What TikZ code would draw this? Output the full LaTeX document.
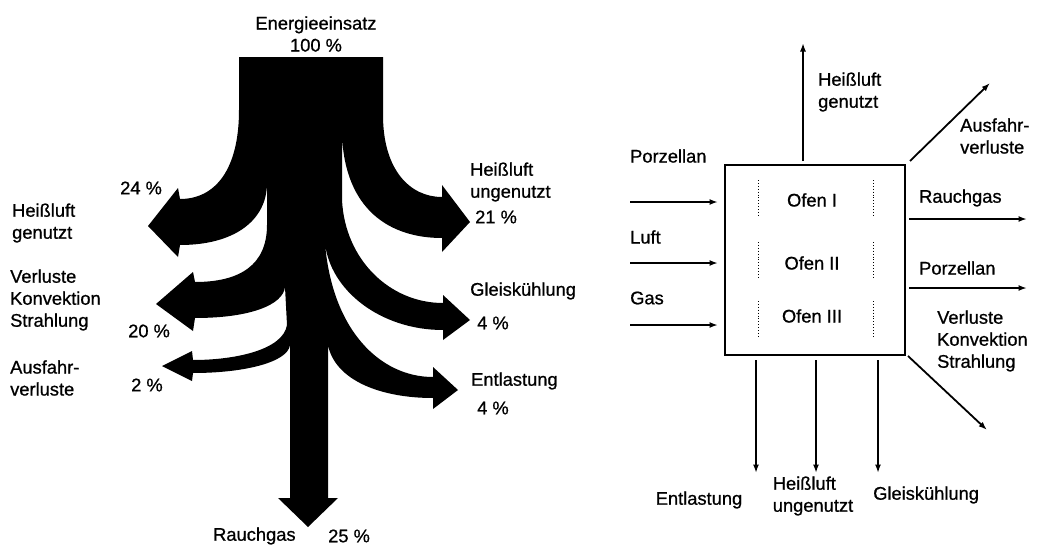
\documentclass[tikz,border=0pt]{standalone}
\usepackage{fontspec}
\setmainfont{Liberation Sans}[FakeBold=0.8]
\usetikzlibrary{arrows.meta}
\begin{document}
\begin{tikzpicture}[x=1pt,y=-1pt,
  lbl/.style={inner sep=0pt,font=\fontsize{18.3}{22}\selectfont,align=left},
  lblw/.style={lbl,anchor=west},
  flow/.style={line width=1.8pt,-{Latex[length=8.5pt,width=6pt]}},
  ofenbox/.style={draw,line width=2pt,minimum width=180pt,minimum height=190pt,inner sep=0pt},
  divider/.style={dotted,line width=0.9pt}]
\useasboundingbox (0,0) rectangle (1042,546);
% ---------------- Sankey diagram ----------------
\fill[black]
  (239,57) -- (239,110) .. controls (239,170) and (215,199) .. (180,199)
  -- (178,188) -- (148,226) -- (178,257) -- (180,245)
  .. controls (235,245) and (267,220) .. (267,183)
  -- (267,225) .. controls (267,265) and (240,282) .. (195,282)
  -- (193,272) -- (156,304) -- (193,331) -- (195,318)
  .. controls (250,318) and (283,305) .. (285,287)
  -- (287,325) .. controls (283,350) and (235,360) .. (193,360)
  -- (192,351) -- (162,366) -- (192,381) -- (193,373)
  .. controls (245,373) and (288,362) .. (290,345)
  -- (290,498) -- (278,498) -- (308,527) -- (338,498) -- (328,498) -- (328,345)
  .. controls (335,380) and (380,398) .. (433,398)
  -- (433,409) -- (458,390) -- (433,367) -- (433,377)
  .. controls (380,377) and (332,330) .. (325,243)
  .. controls (330,290) and (380,330) .. (443,330)
  -- (443,340) -- (470,320) -- (443,295) -- (443,303)
  .. controls (390,303) and (345,260) .. (342,200) -- (342,135)
  .. controls (345,210) and (390,238) .. (442,238)
  -- (442,252) -- (470,222) -- (442,185) -- (442,197)
  .. controls (410,197) and (383,170) .. (383,115) -- (383,57) -- cycle;
\node[lbl,align=center] (ein) at (316,34) {Energieeinsatz\\100 \%};
\node[lblw] (p24) at (120,188) {24 \%};
\node[lblw] (hgL) at (12,223) {Heißluft\\genutzt};
\node[lblw] (huL) at (470,182) {Heißluft\\ungenutzt};
\node[lblw] (p21) at (475,217) {21 \%};
\node[lblw] (vkL) at (10,300) {Verluste\\Konvektion\\Strahlung};
\node[lblw] (p20) at (128,331) {20 \%};
\node[lblw] (afL) at (10,378) {Ausfahr-\\verluste};
\node[lblw] (p2) at (131,385) {2 \%};
\node[lblw] (gkL) at (470,291) {Gleiskühlung};
\node[lblw] (p4a) at (477,323) {4 \%};
\node[lblw] (elL) at (471,381) {Entlastung};
\node[lblw] (p4b) at (477,408) {4 \%};
\node[lblw] (rgL) at (213,536) {Rauchgas};
\node[lblw] (p25) at (328,536) {25 \%};
% ---------------- Kiln balance ----------------
\node[ofenbox] (ofen) at (815,260) {};
\node[lbl] (o1) at (812,200) {Ofen I};
\node[lbl] (o2) at (812,263) {Ofen II};
\node[lbl] (o3) at (812,316) {Ofen III};
\draw[divider] (758,180) -- (758,217) (873,180) -- (873,217)
               (758,242) -- (758,278) (873,242) -- (873,278)
               (758,301) -- (758,338) (873,301) -- (873,338);
% inputs
\coordinate (in1s) at (630,202); \coordinate (in1e) at (718,202);
\coordinate (in2s) at (630,263); \coordinate (in2e) at (718,263);
\coordinate (in3s) at (630,325); \coordinate (in3e) at (718,325);
\draw[flow] (in1s) -- (in1e);
\draw[flow] (in2s) -- (in2e);
\draw[flow] (in3s) -- (in3e);
\node[lblw] (tPorzIn) at (630,156) {Porzellan};
\node[lblw] (tLuft) at (630,237) {Luft};
\node[lblw] (tGas) at (630,298) {Gas};
% outputs
\coordinate (upS) at (803,161); \coordinate (upE) at (803,43);
\draw[flow] (upS) -- (upE);
\node[lblw] (tHg) at (818,92) {Heißluft\\genutzt};
\coordinate (aS) at (910,161); \coordinate (aE) at (990,83);
\draw[flow] (aS) -- (aE);
\node[lblw] (tAf) at (960,136) {Ausfahr-\\verluste};
\coordinate (rS) at (909,219); \coordinate (rE) at (1027,219);
\draw[flow] (rS) -- (rE);
\node[lblw] (tRg) at (919,198) {Rauchgas};
\coordinate (pS) at (909,288); \coordinate (pE) at (1027,288);
\draw[flow] (pS) -- (pE);
\node[lblw] (tPorzOut) at (919,268) {Porzellan};
\node[lblw] (tVk) at (937,341) {Verluste\\Konvektion\\Strahlung};
\coordinate (vS) at (908,356); \coordinate (vE) at (987,430);
\draw[flow] (vS) -- (vE);
\coordinate (b1S) at (756,360); \coordinate (b1E) at (756,473);
\coordinate (b2S) at (816,360); \coordinate (b2E) at (816,473);
\coordinate (b3S) at (878,360); \coordinate (b3E) at (878,473);
\draw[flow] (b1S) -- (b1E);
\draw[flow] (b2S) -- (b2E);
\draw[flow] (b3S) -- (b3E);
\node[lbl] (tEl) at (699,500) {Entlastung};
\node[lbl] (tHu) at (813,496) {Heißluft\\ungenutzt};
\node[lblw] (tGk) at (873,495) {Gleiskühlung};
\end{tikzpicture}
\end{document}
